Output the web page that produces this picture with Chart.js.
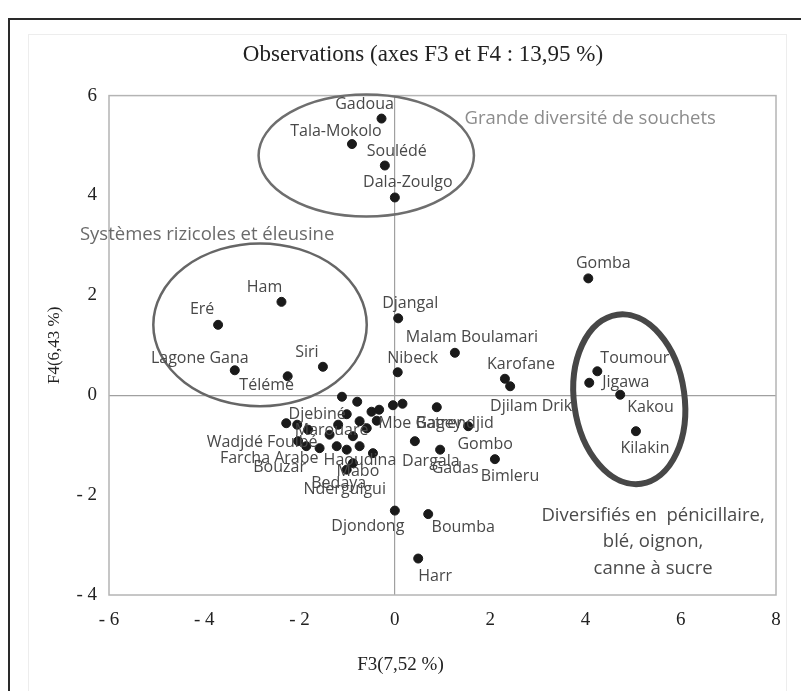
<!DOCTYPE html>
<html>
<head>
<meta charset="utf-8">
<script src="https://cdn.jsdelivr.net/npm/chart.js@4/dist/chart.umd.min.js"></script>
<style>
  html, body { margin: 0; padding: 0; background: #fff; }
  #wrap { position: relative; width: 801px; height: 691px; overflow: hidden; }
  #frame { position: absolute; left: 8px; top: 18px; width: 820px; height: 700px;
           border-left: 2px solid #2a2a2a; border-top: 2px solid #2a2a2a; }
  #inner { position: absolute; left: 28px; top: 34px; width: 757px; height: 700px;
           border: 1px solid #ededed; }
  canvas { position: absolute; left: 0; top: 0; }
</style>
</head>
<body>
<div id="wrap">
  <div id="frame"></div>
  <div id="inner"></div>
  <canvas id="scatter" width="801" height="691"></canvas>
</div>
<script>
// Observations projetées sur les axes F3 / F4
const obsNames = [
  'Gadoua', 'Tala-Mokolo', 'Soulédé', 'Dala-Zoulgo',
  'Ham', 'Eré', 'Djangal', 'Malam Boulamari', 'Lagone Gana', 'Siri', 'Télémé', 'Nibeck',
  'Gomba', 'Toumour', 'Jigawa', 'Karofane', 'Djilam Drik', 'Kakou', 'Kilakin',
  'Gombo', 'Gadas', 'Dargala', 'Bimleru', 'Boumba', 'Harr', 'Djondong',
  '', '', 'Mbe Gagey', '', 'Batrendjid',
  '', '', '', '', '', 'Djebiné', '', '', '', '',
  'Marouaré', '', 'Wadjdé Foulbé', 'Farcha Arabe', 'Bouzar', '', 'Nderguigui', '', 'Haoudina',
  'Mabo', 'Bedaya'
];
const f3Values = [
  -0.28, -0.90, -0.21, 0.00,
  -2.38, -3.71, 0.07, 1.26, -3.36, -1.51, -2.25, 0.06,
  4.06, 4.25, 4.08, 2.31, 2.42, 4.73, 5.06,
  1.54, 0.95, 0.42, 2.10, 0.70, 0.49, 0.00,
  -1.11, -0.79, -0.04, 0.16, 0.88,
  -1.01, -0.49, -0.33, -2.28, -2.05, -1.82, -1.19, -0.74, -0.59, -0.38,
  -1.37, -0.88, -2.03, -1.86, -1.58, -1.22, -1.01, -0.74, -0.46,
  -0.88, -1.01
];
const f4Values = [
  5.54, 5.03, 4.60, 3.96,
  1.87, 1.41, 1.54, 0.85, 0.50, 0.57, 0.38, 0.46,
  2.34, 0.48, 0.25, 0.33, 0.18, 0.01, -0.72,
  -0.62, -1.09, -0.92, -1.28, -2.38, -3.27, -2.31,
  -0.03, -0.13, -0.20, -0.17, -0.24,
  -0.38, -0.33, -0.29, -0.56, -0.59, -0.69, -0.59, -0.52, -0.66, -0.51,
  -0.79, -0.82, -0.92, -1.02, -1.06, -1.02, -1.09, -1.02, -1.16,
  -1.36, -1.49
];
const xTicks = [-6, -4, -2, 0, 2, 4, 6, 8];
const yTicks = [-4, -2, 0, 2, 4, 6];

// placement des étiquettes (décalage en px par rapport au point)
const labelPlacement = {
  'Gadoua': [-17, -14], 'Tala-Mokolo': [-16, -13], 'Soulédé': [12, -14], 'Dala-Zoulgo': [13, -15],
  'Ham': [-17, -14], 'Eré': [-16, -15], 'Djangal': [12, -15], 'Malam Boulamari': [17, -15],
  'Lagone Gana': [-35, -12], 'Siri': [-16, -14], 'Télémé': [-21, 9], 'Nibeck': [15, -14],
  'Gomba': [15, -15], 'Karofane': [16, -14], 'Djilam Drik': [21, 20],
  'Toumour': [3, -13, 'left'], 'Jigawa': [13, 0, 'left'], 'Kakou': [7, 13, 'left'], 'Kilakin': [9, 17],
  'Gombo': [17, 18], 'Gadas': [15, 19], 'Dargala': [16, 20], 'Bimleru': [15, 17],
  'Boumba': [35, 13], 'Harr': [17, 18], 'Djondong': [-27, 16],
  'Mbe Gagey': [27, 18], 'Batrendjid': [18, 16], 'Djebiné': [9, -15], 'Marouaré': [2, -4],
  'Wadjdé Foulbé': [-36, 1], 'Farcha Arabe': [-37, 12], 'Bouzar': [-40, 19],
  'Nderguigui': [-2, 40], 'Haoudina': [-13, 7], 'Mabo': [5, 8], 'Bedaya': [-8, 14]
};

const ellipses = [
  { cx: -0.60, cy: 4.80, rx: 2.26, ry: 1.22, rot: 0, width: 2.5, color: '#6e6e6e' },
  { cx: -2.83, cy: 1.41, rx: 2.24, ry: 1.63, rot: 0, width: 2.5, color: '#666666' },
  { cx: 4.92, cy: -0.08, rx: 1.16, ry: 1.71, rot: -8, width: 6, color: '#474747' }
];

const groupNotes = [
  { lines: ['Grande diversité de souchets'], x: 4.10, y: 5.54, color: '#8c8c8c' },
  { lines: ['Systèmes rizicoles et éleusine'], x: -3.94, y: 3.21, color: '#6a6a6a' },
  { lines: ['Diversifiés en  pénicillaire,', 'blé, oignon,', 'canne à sucre'], x: 5.42, y: -2.41, color: '#4a4a4a' }
];

const serif = "'Liberation Serif', 'DejaVu Serif', serif";
const sans = "'Open Sans', 'Noto Sans', sans-serif";

const plotFrame = {
  id: 'plotFrame',
  beforeDatasetsDraw(chart) {
    const { ctx, chartArea: a } = chart;
    ctx.save();
    ctx.strokeStyle = '#b4b4b4';
    ctx.lineWidth = 1.5;
    ctx.strokeRect(a.left, a.top, a.right - a.left, a.bottom - a.top);
    ctx.restore();
  }
};

const annotations = {
  id: 'annotations',
  afterDatasetsDraw(chart) {
    const { ctx, scales: { x, y } } = chart;
    ctx.save();
    ellipses.forEach(e => {
      const px = x.getPixelForValue(e.cx), py = y.getPixelForValue(e.cy);
      const rx = Math.abs(x.getPixelForValue(e.cx + e.rx) - px);
      const ry = Math.abs(y.getPixelForValue(e.cy + e.ry) - py);
      ctx.beginPath();
      ctx.ellipse(px, py, rx, ry, e.rot * Math.PI / 180, 0, 2 * Math.PI);
      ctx.strokeStyle = e.color;
      ctx.lineWidth = e.width;
      ctx.stroke();
    });

    ctx.font = '16px ' + sans;
    ctx.textBaseline = 'middle';
    ctx.fillStyle = '#484848';
    chart.getDatasetMeta(0).data.forEach((pt, i) => {
      const name = obsNames[i];
      if (!name) return;
      const [dx, dy, align] = labelPlacement[name] || [0, -14];
      ctx.textAlign = align || 'center';
      ctx.fillText(name, pt.x + dx, pt.y + dy);
    });

    ctx.textAlign = 'center';
    ctx.font = '18.5px ' + sans;
    groupNotes.forEach(n => {
      ctx.fillStyle = n.color;
      n.lines.forEach((line, k) => {
        ctx.fillText(line, x.getPixelForValue(n.x), y.getPixelForValue(n.y) + k * 26.5);
      });
    });

    // titre de l'axe horizontal
    ctx.font = '19px ' + serif;
    ctx.fillStyle = '#222';
    ctx.fillText('F3(7,52 %)', chart.width / 2, 665);
    ctx.restore();
  }
};

const tickLabel = v => v < 0 ? '- ' + Math.abs(v) : String(v);
const zeroLine = c => (c.tick && c.tick.value === 0) ? '#a0a0a0' : 'rgba(0,0,0,0)';

new Chart(document.getElementById('scatter'), {
  type: 'scatter',
  data: {
    datasets: [{
      data: f3Values.map((v, i) => ({ x: v, y: f4Values[i] })),
      backgroundColor: '#1a1a1a',
      borderColor: '#1a1a1a',
      pointRadius: 4.5,
      pointHoverRadius: 4.5
    }]
  },
  options: {
    responsive: false,
    animation: false,
    layout: { padding: { left: 70, right: 25, top: 0, bottom: 0 } },
    plugins: {
      legend: { display: false },
      tooltip: { enabled: false },
      title: {
        display: true,
        text: 'Observations (axes F3 et F4 : 13,95 %)',
        color: '#222',
        font: { family: serif, size: 23, weight: 'normal' },
        padding: { top: 41, bottom: 27 }
      }
    },
    scales: {
      x: {
        type: 'linear',
        min: xTicks[0],
        max: xTicks[xTicks.length - 1],
        afterBuildTicks: s => { s.ticks = xTicks.map(v => ({ value: v })); },
        afterFit: s => { s.height = 96; },
        grid: { color: zeroLine, lineWidth: 1.2, drawTicks: false },
        border: { display: false },
        ticks: {
          padding: 14,
          color: '#222',
          font: { family: serif, size: 19 },
          callback: tickLabel
        }
      },
      y: {
        type: 'linear',
        min: yTicks[0],
        max: yTicks[yTicks.length - 1],
        afterBuildTicks: s => { s.ticks = yTicks.map(v => ({ value: v })); },
        afterFit: s => { s.width = 39; },
        grid: { color: zeroLine, lineWidth: 1.2, drawTicks: false },
        border: { display: false },
        ticks: {
          padding: 12,
          color: '#222',
          font: { family: serif, size: 19 },
          callback: tickLabel
        },
        title: {
          display: true,
          text: 'F4(6,43 %)',
          color: '#222',
          font: { family: serif, size: 17 },
          padding: { top: -26 }
        }
      }
    }
  },
  plugins: [plotFrame, annotations]
});
</script>
</body>
</html>
